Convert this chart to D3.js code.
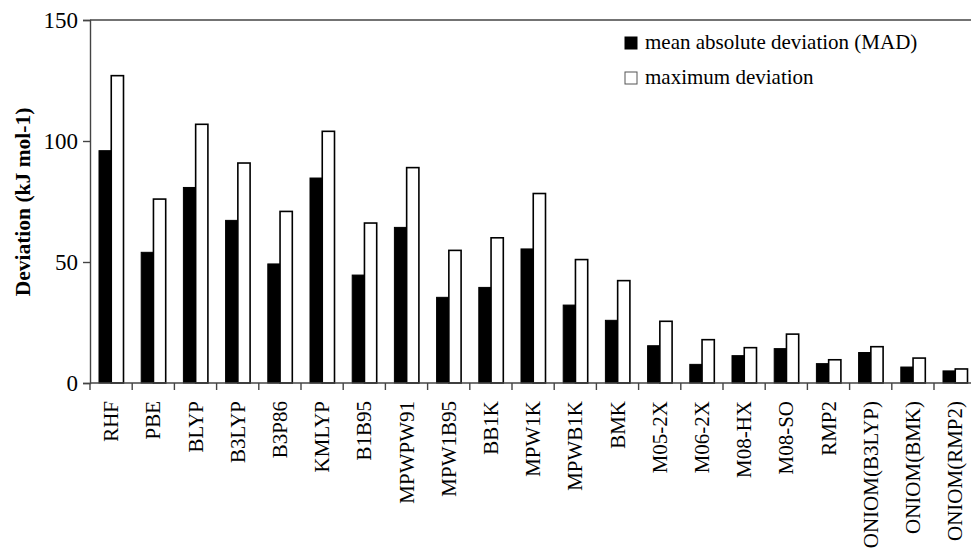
<!DOCTYPE html>
<html>
<head>
<meta charset="utf-8">
<script src="https://cdn.jsdelivr.net/npm/d3@7"></script>
<style>
  html, body { margin: 0; padding: 0; background: #fff; }
  svg { display: block; }
  svg text { font-family: "Liberation Serif", "Times New Roman", serif !important; fill: #000; }
</style>
</head>
<body>
<svg id="chart" width="971" height="548"></svg>
<script>
// Methods compared
const categories = ["RHF", "PBE", "BLYP", "B3LYP", "B3P86", "KMLYP", "B1B95", "MPWPW91",
  "MPW1B95", "BB1K", "MPW1K", "MPWB1K", "BMK", "M05-2X", "M06-2X", "M08-HX", "M08-SO",
  "RMP2", "ONIOM(B3LYP)", "ONIOM(BMK)", "ONIOM(RMP2)"];

// Mean absolute deviation (kJ mol-1)
const madValues = [96, 54, 80.8, 67.2, 49.2, 84.7, 44.6, 64.3, 35.4, 39.5, 55.4, 32.2,
  25.9, 15.4, 7.7, 11.3, 14.2, 8.0, 12.6, 6.6, 5.0];

// Maximum deviation (kJ mol-1)
const maxValues = [127, 76, 106.9, 90.9, 70.9, 104, 66.1, 89, 54.8, 60, 78.3, 51,
  42.3, 25.5, 17.9, 14.6, 20.2, 9.6, 15.0, 10.3, 5.8];

const seriesNames = ["mean absolute deviation (MAD)", "maximum deviation"];
const yTicks = [0, 50, 100, 150];

const serif = "'Liberation Serif', 'Times New Roman', serif";
const svg = d3.select("#chart").attr("font-family", serif);

const plotLeft = 90, plotTop = 20, plotBottom = 383;
const bandW = 42.2;

const x = d3.scaleBand()
  .domain(categories)
  .range([plotLeft, plotLeft + bandW * categories.length])
  .padding(0);

const xInner = d3.scaleBand()
  .domain(seriesNames)
  .range([9, 33.5])
  .padding(0);

const y = d3.scaleLinear().domain([0, 150]).range([plotBottom, plotTop]);

const rows = categories.map((c, i) => ({ cat: c, mad: madValues[i], max: maxValues[i] }));

// Bars: filled black for MAD, outlined white for maximum
const groups = svg.append("g").selectAll("g")
  .data(rows).join("g")
  .attr("transform", d => `translate(${x(d.cat)},0)`);

groups.append("rect")
  .attr("x", xInner(seriesNames[0]))
  .attr("y", d => y(d.mad))
  .attr("width", xInner.bandwidth())
  .attr("height", d => y(0) - y(d.mad))
  .attr("fill", "#000")
  .attr("stroke", "#000")
  .attr("stroke-width", 1);

groups.append("rect")
  .attr("x", xInner(seriesNames[1]))
  .attr("y", d => y(d.max))
  .attr("width", xInner.bandwidth())
  .attr("height", d => y(0) - y(d.max))
  .attr("fill", "#fff")
  .attr("stroke", "#000")
  .attr("stroke-width", 1.6);

// Top frame line
svg.append("line")
  .attr("x1", plotLeft).attr("x2", 971)
  .attr("y1", y(150)).attr("y2", y(150))
  .attr("stroke", "#444").attr("stroke-width", 1.4);

// Y axis
const yAxis = svg.append("g")
  .attr("transform", `translate(${plotLeft},0)`)
  .call(d3.axisLeft(y).tickValues(yTicks).tickSize(7).tickPadding(5).tickFormat(d3.format("d")));
yAxis.attr("font-family", serif);
yAxis.select(".domain").attr("stroke", "#444").attr("stroke-width", 1.4);
yAxis.selectAll(".tick line").attr("stroke", "#444").attr("stroke-width", 1.4);
yAxis.selectAll(".tick text")
  .style("font-family", serif)
  .style("font-size", "23px")
  .attr("fill", "#000");

// X axis: ticks at category boundaries
const xAxisG = svg.append("g");
xAxisG.append("line")
  .attr("x1", plotLeft).attr("x2", 971)
  .attr("y1", plotBottom).attr("y2", plotBottom)
  .attr("stroke", "#444").attr("stroke-width", 1.4);
xAxisG.selectAll("line.tk")
  .data(categories).join("line")
  .attr("class", "tk")
  .attr("x1", d => x(d)).attr("x2", d => x(d))
  .attr("y1", plotBottom).attr("y2", plotBottom + 7)
  .attr("stroke", "#444").attr("stroke-width", 1.4);

xAxisG.selectAll("text")
  .data(categories).join("text")
  .attr("transform", d => `translate(${x(d) + x.bandwidth() / 2 + 7},${plotBottom + 18}) rotate(-90)`)
  .attr("text-anchor", "end")
  .style("font-family", serif)
  .style("font-size", "21px")
  .text(d => d);

// Y axis title
svg.append("text")
  .attr("transform", `translate(30,202) rotate(-90)`)
  .attr("text-anchor", "middle")
  .style("font-family", serif)
  .style("font-size", "21.5px")
  .style("font-weight", "bold")
  .text("Deviation (kJ mol-1)");

// Legend
const legend = svg.append("g").attr("transform", "translate(625,0)");
const legendRows = [
  { name: seriesNames[0], fill: "#000", y: 37 },
  { name: seriesNames[1], fill: "#fff", y: 72 }
];
legendRows.forEach(r => {
  legend.append("rect")
    .attr("x", 0).attr("y", r.y)
    .attr("width", 12).attr("height", 12)
    .attr("fill", r.fill)
    .attr("stroke", r.fill === "#000" ? "#000" : "#555")
    .attr("stroke-width", 1);
  legend.append("text")
    .attr("x", 20).attr("y", r.y + 12)
    .style("font-family", serif)
    .style("font-size", "21px")
    .text(r.name);
});
</script>
</body>
</html>
